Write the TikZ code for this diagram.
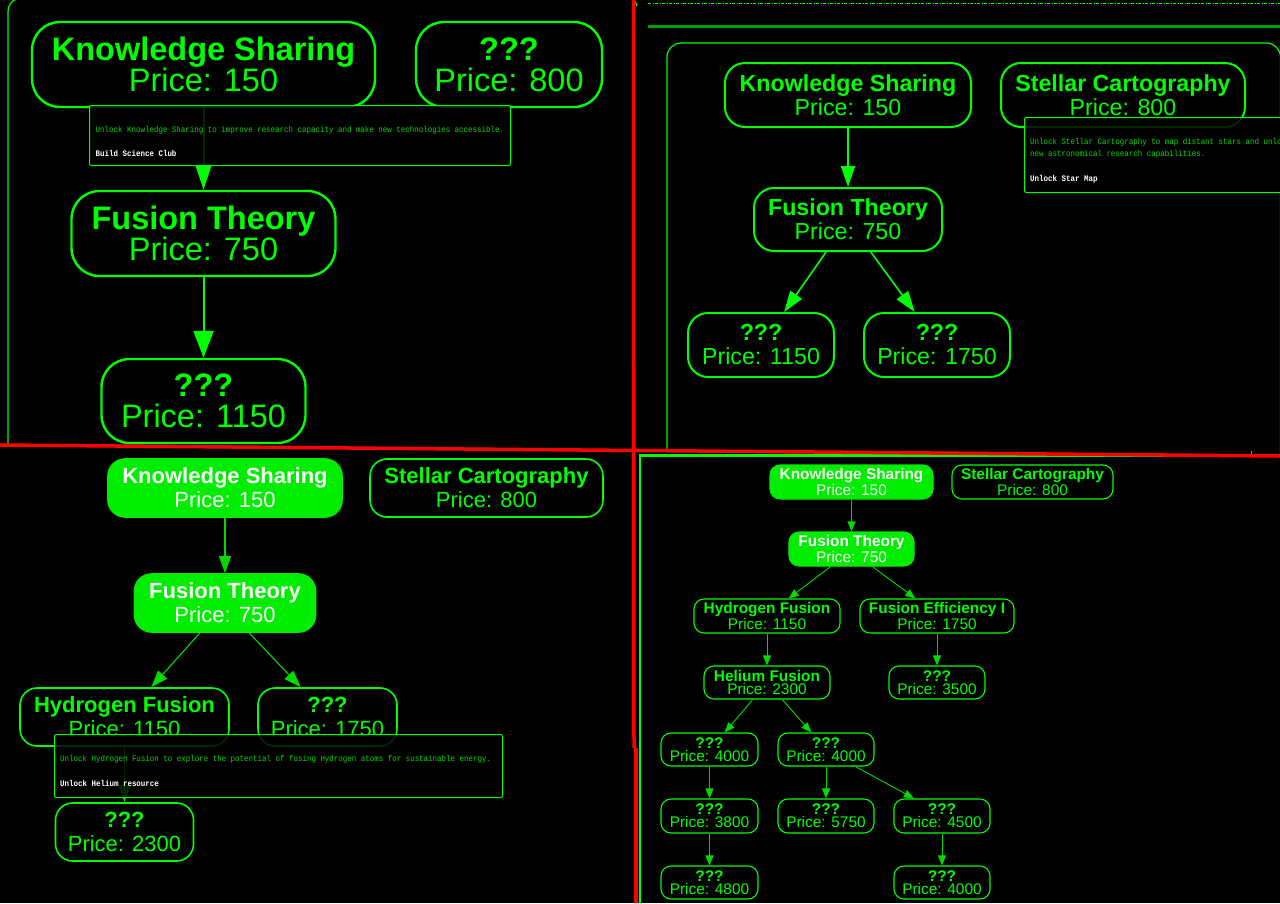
\documentclass[tikz,border=0pt]{standalone}
\usepackage{fontspec}
\setmainfont{Liberation Sans}
\newfontfamily\tipfont[FakeStretch=0.88]{Liberation Mono}
\usepackage{tikz}
\usetikzlibrary{arrows.meta}
\definecolor{termgreen}{RGB}{0,255,0}
\definecolor{boxgreen}{RGB}{0,236,0}
\definecolor{linegreen}{RGB}{0,218,0}
\definecolor{bargreen}{RGB}{0,160,0}
\definecolor{tipgreen}{RGB}{0,222,0}
\definecolor{cutred}{RGB}{255,0,0}

\begin{document}
\begin{tikzpicture}[x=1pt, y=-1pt,
    techA/.style={
            draw=termgreen,
            text=termgreen,
            line width=2.4pt,
            rounded corners=28pt,
            inner sep=0pt,
            align=center,
            font=\fontsize{32.5}{31}\selectfont
        },
    techB/.style={techA, line width=2pt, rounded corners=20pt,
            font=\fontsize{23.2}{24}\selectfont},
    techC/.style={techA, line width=1.6pt, rounded corners=17pt,
            font=\fontsize{22}{24}\selectfont},
    techD/.style={techA, line width=1.1pt, rounded corners=10pt,
            font=\fontsize{15.4}{13.3}\selectfont},
    owned/.style={fill=boxgreen, draw=boxgreen, text=white},
    tipbox/.style={draw=termgreen, line width=1pt, fill=black, fill opacity=0.84,
            rounded corners=2pt, inner sep=0pt, anchor=north west},
    tipdesc/.style={text=tipgreen, inner sep=0pt, anchor=base west,
            font=\tipfont\fontsize{8.5}{12}\selectfont},
    tipact/.style={tipdesc, text=white, font=\tipfont\bfseries\fontsize{8.5}{12}\selectfont},
    linkA/.style={draw=termgreen, line width=2pt},
    linkB/.style={draw=termgreen, line width=1.6pt, -{Triangle[length=21pt,width=14pt]}},
    linkC/.style={draw=linegreen, line width=1.1pt, -{Triangle[length=17pt,width=12pt]}},
    linkD/.style={draw=linegreen, line width=0.9pt, -{Triangle[length=10pt,width=8pt]}}
]

    \useasboundingbox (0,0) rectangle (1280,903);
    \fill[black] (0,0) rectangle (1280,903);

    % first view
    \draw[termgreen, line width=1.2pt] (8,445) -- (8,12) to[out=90,in=195] (17,-1);
    \draw[termgreen, line width=1.2pt] (627,-2) to[out=0,in=100] (637,6);

    \node [techA, minimum width=343pt, minimum height=85pt] (ks1) at (203.5,64.5) {\textbf{Knowledge Sharing}\\Price: 150};
    \node [techA, minimum width=186pt, minimum height=85pt, right of=ks1, node distance=305.5pt] (u1) {\textbf{???}\\Price: 800};
    \node [techA, minimum width=264pt, minimum height=85pt, below of=ks1, node distance=169pt] (ft1) {\textbf{Fusion Theory}\\Price: 750};
    \node [techA, minimum width=204pt, minimum height=84pt, below of=ft1, node distance=167.5pt] (u2) {\textbf{???}\\Price: 1150};

    \draw [linkA, -{Triangle[length=25pt,width=16pt]}] (ks1) -- (ft1);
    \draw [linkA, -{Triangle[length=27pt,width=20pt]}] (ft1) -- (u2);

    \node [tipbox, minimum width=421pt, minimum height=60pt] (tip1) at (89,105) {};
    \node [tipdesc] (tip1d) at (95.5,132) {Unlock Knowledge Sharing to improve research capacity and make new technologies accessible.};
    \node [tipact] (tip1a) at (95.5,156) {Build Science Club};

    % second view
    \draw[termgreen, line width=0.8pt, dash pattern=on 3pt off 1.5pt on 1pt off 1.5pt] (648,3) -- (1280,3);
    \draw[bargreen, line width=3pt] (648,26.5) -- (1280,26.5);
    \draw[termgreen, line width=1.2pt, rounded corners=14pt] (667,452) |- (1280.5,43) -- (1280.5,452);

    \node [techB, minimum width=246pt, minimum height=64pt] (ks2) at (848,95) {\textbf{Knowledge Sharing}\\Price: 150};
    \node [techB, minimum width=244pt, minimum height=64pt, right of=ks2, node distance=275pt] (sc2) {\textbf{Stellar Cartography}\\Price: 800};
    \node [techB, minimum width=188pt, minimum height=63pt, below of=ks2, node distance=124.5pt] (ft2) {\textbf{Fusion Theory}\\Price: 750};
    \node [techB, minimum width=146pt, minimum height=64pt] (u3) at (761,345) {\textbf{???}\\Price: 1150};
    \node [techB, minimum width=146pt, minimum height=64pt, right of=u3, node distance=176pt] (u4) {\textbf{???}\\Price: 1750};

    \draw [linkB] (ks2) -- (ft2);
    \draw [linkB] (ft2.-124) -- (u3.55);
    \draw [linkB] (ft2.-55) -- (u4.124);

    \node [tipbox, minimum width=270pt, minimum height=75pt] (tip2) at (1024,117) {};
    \node [tipdesc] (tip2d) at (1030,144) {Unlock Stellar Cartography to map distant stars and unlock};
    \node [tipdesc] (tip2e) at (1030,156) {new astronomical research capabilities.};
    \node [tipact] (tip2a) at (1030,181) {Unlock Star Map};

    % third view
    \node [techC, owned, minimum width=234pt, minimum height=58pt] (ks3) at (225,488) {\textbf{Knowledge Sharing}\\Price: 150};
    \node [techC, minimum width=233pt, minimum height=58pt, right of=ks3, node distance=261.5pt] (sc3) {\textbf{Stellar Cartography}\\Price: 800};
    \node [techC, owned, minimum width=181pt, minimum height=58pt, below of=ks3, node distance=115pt] (ft3) {\textbf{Fusion Theory}\\Price: 750};
    \node [techC, minimum width=209pt, minimum height=58pt] (hf3) at (124.5,717) {\textbf{Hydrogen Fusion}\\Price: 1150};
    \node [techC, minimum width=139pt, minimum height=58pt, right of=hf3, node distance=203pt] (u5) {\textbf{???}\\Price: 1750};
    \node [techC, minimum width=138pt, minimum height=58pt, below of=hf3, node distance=115pt] (u6) {\textbf{???}\\Price: 2300};

    \draw [linkC] (ks3) -- (ft3);
    \draw [linkC] (ft3.-130) -- (hf3.48);
    \draw [linkC] (ft3.-51) -- (u5.132);
    \draw [linkC] (hf3) -- (u6);

    \node [tipbox, minimum width=448pt, minimum height=63pt] (tip3) at (54,734) {};
    \node [tipdesc] (tip3d) at (60,761) {Unlock Hydrogen Fusion to explore the potential of fusing Hydrogen atoms for sustainable energy.};
    \node [tipact] (tip3a) at (60,786) {Unlock Helium resource};

    % fourth view
    \draw[termgreen, line width=2.5pt] (640,903) |- (1280,455.5);
    \fill[termgreen] (1250.5,450.5) rectangle (1252,454);

    \node [techD, owned, minimum width=163pt, minimum height=34pt] (ks4) at (851.5,482) {\textbf{Knowledge Sharing}\\Price: 150};
    \node [techD, minimum width=161pt, minimum height=34pt, right of=ks4, node distance=181pt] (sc4) {\textbf{Stellar Cartography}\\Price: 800};
    \node [techD, owned, minimum width=125pt, minimum height=34pt, below of=ks4, node distance=67pt] (ft4) {\textbf{Fusion Theory}\\Price: 750};
    \node [techD, minimum width=146pt, minimum height=34pt] (hf4) at (767,616) {\textbf{Hydrogen Fusion}\\Price: 1150};
    \node [techD, minimum width=154pt, minimum height=34pt, right of=hf4, node distance=170pt] (fe4) {\textbf{Fusion Efficiency I}\\Price: 1750};
    \node [techD, minimum width=126pt, minimum height=33pt, below of=hf4, node distance=66.5pt] (he4) {\textbf{Helium Fusion}\\Price: 2300};
    \node [techD, minimum width=96pt, minimum height=33pt, below of=fe4, node distance=66.5pt] (u7) {\textbf{???}\\Price: 3500};
    \node [techD, minimum width=97pt, minimum height=33pt] (u8) at (709.5,749.5) {\textbf{???}\\Price: 4000};
    \node [techD, minimum width=96pt, minimum height=33pt, right of=u8, node distance=116.5pt] (u9) {\textbf{???}\\Price: 4000};
    \node [techD, minimum width=97pt, minimum height=34pt, below of=u8, node distance=66.5pt] (u10) {\textbf{???}\\Price: 3800};
    \node [techD, minimum width=96pt, minimum height=34pt, below of=u9, node distance=66.5pt] (u11) {\textbf{???}\\Price: 5750};
    \node [techD, minimum width=96pt, minimum height=34pt, right of=u11, node distance=116pt] (u12) {\textbf{???}\\Price: 4500};
    \node [techD, minimum width=97pt, minimum height=33pt, below of=u10, node distance=66.5pt] (u13) {\textbf{???}\\Price: 4800};
    \node [techD, minimum width=96pt, minimum height=33pt, below of=u12, node distance=66.5pt] (u14) {\textbf{???}\\Price: 4000};

    \draw [linkD] (ks4) -- (ft4);
    \draw [linkD] (ft4.-140) -- (hf4.39);
    \draw [linkD] (ft4.-40) -- (fe4.141);
    \draw [linkD] (hf4) -- (he4);
    \draw [linkD] (fe4) -- (u7);
    \draw [linkD] (he4.-130) -- (u8.48);
    \draw [linkD] (he4.-48) -- (u9.131);
    \draw [linkD] (u8) -- (u10);
    \draw [linkD] (u9) -- (u11);
    \draw [linkD] (u9.-30) -- (u12.148);
    \draw [linkD] (u10) -- (u13);
    \draw [linkD] (u12) -- (u14);

    % cut lines
    \draw[cutred, line width=3.5pt] (0,445) -- (1280,456);
    \draw[cutred, line width=3.5pt] (633.5,0) -- (634,748);
    \draw[cutred, line width=3.5pt] (636,748) -- (636,903);
\end{tikzpicture}
\end{document}
